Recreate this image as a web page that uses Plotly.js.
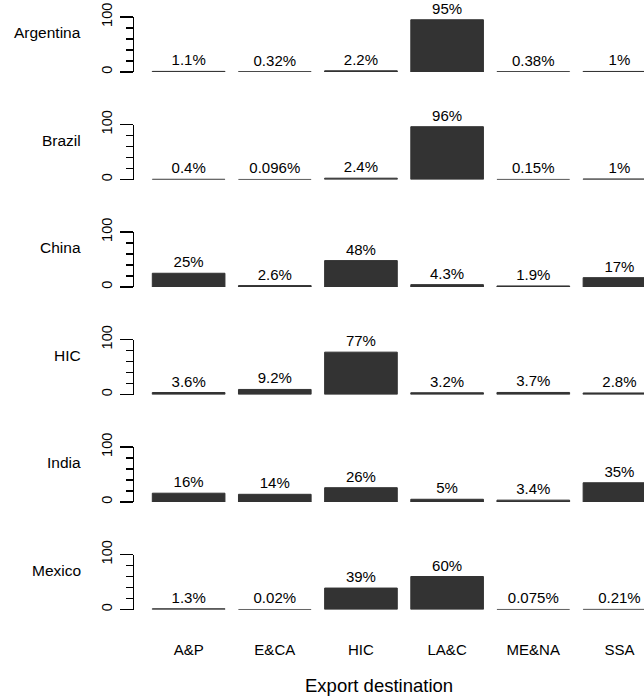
<!DOCTYPE html>
<html>
<head>
<meta charset="utf-8">
<script src="https://cdn.plot.ly/plotly-3.0.1.min.js"></script>
<style>html,body{margin:0;padding:0;background:#fff;}</style>
</head>
<body>
<div id="chart" style="width:644px;height:698px;"></div>
<script>
// Data
const destinations = ["A&P", "E&CA", "HIC", "LA&C", "ME&NA", "SSA"];
const origins = ["Argentina", "Brazil", "China", "HIC", "India", "Mexico"];
const argentina = [1.1, 0.32, 2.2, 95, 0.38, 1];
const brazil    = [0.4, 0.096, 2.4, 96, 0.15, 1];
const china     = [25, 2.6, 48, 4.3, 1.9, 17];
const hic       = [3.6, 9.2, 77, 3.2, 3.7, 2.8];
const india     = [16, 14, 26, 5, 3.4, 35];
const mexico    = [1.3, 0.02, 39, 60, 0.075, 0.21];
const yTickVals = [0, 100];
const yTickText = ["0", "100"];
const yMinorVals = [20, 40, 60, 80];
const xTitle = "Export destination";

const series = [argentina, brazil, china, hic, india, mexico];

const W = 644, H = 698;
const FONT = "Liberation Sans, Arial, Helvetica, sans-serif";
const BAR = "#333333";

function fmt(v) { return String(Number(v.toPrecision(2))) + "%"; }

const traces = [];
const layout = {
  width: W, height: H,
  margin: {l: 0, r: 0, t: 0, b: 0},
  paper_bgcolor: "#fff", plot_bgcolor: "#fff",
  showlegend: false,
  bargap: 0.157,
  font: {family: FONT, size: 15, color: "#000"},
  annotations: []
};

const xDom = [134 / W, 1];
const xRange = [-0.634, 5.285];

series.forEach((vals, i) => {
  const n = i + 1;
  const xa = "x" + (n === 1 ? "" : n);
  const ya = "y" + (n === 1 ? "" : n);
  traces.push({
    type: "bar",
    x: destinations,
    y: vals,
    xaxis: xa, yaxis: ya,
    marker: {color: BAR, line: {color: BAR, width: 1}},
    text: vals.map(fmt),
    textposition: "outside",
    textfont: {family: FONT, size: 15, color: "#000"},
    cliponaxis: false,
    hoverinfo: "x+y"
  });
  const bottom = 72 + 107.5 * i, top = 17 + 107.5 * i;
  const last = (i === series.length - 1);
  layout["xaxis" + (n === 1 ? "" : n)] = {
    domain: xDom, anchor: ya, type: "category",
    range: xRange, showline: false, showgrid: false, zeroline: false,
    ticks: "", showticklabels: last,
    ticklabelstandoff: 29,
    tickfont: {family: FONT, size: 15, color: "#000"},
    automargin: false, fixedrange: true
  };
  layout["yaxis" + (n === 1 ? "" : n)] = {
    domain: [1 - bottom / H, 1 - top / H], anchor: xa,
    range: [0, 100], showgrid: false, zeroline: false,
    showline: true, linecolor: "#000", linewidth: 1.5,
    tickmode: "array", tickvals: yTickVals, ticktext: yTickText,
    ticks: "outside", ticklen: 13, tickwidth: 1.5, tickcolor: "#000",
    tickangle: -90,
    ticklabelstandoff: 2,
    tickfont: {family: FONT, size: 14.5, color: "#000"},
    minor: {tickmode: "array", tickvals: yMinorVals, ticks: "outside", ticklen: 7, tickwidth: 1.5, tickcolor: "#000", showgrid: false},
    automargin: false, fixedrange: true
  };
  layout.annotations.push({
    text: origins[i], xref: "paper", yref: ya, x: 83 / W, y: 71,
    xanchor: "right", yanchor: "middle", showarrow: false,
    font: {family: FONT, size: 15.5, color: "#000"}
  });
});

layout.annotations.push({
  text: xTitle, xref: "paper", yref: "paper", x: 379 / W, y: 1 - 685 / H,
  xanchor: "center", yanchor: "middle", showarrow: false,
  font: {family: FONT, size: 18.5, color: "#000"}
});

Plotly.newPlot("chart", traces, layout, {staticPlot: true, displayModeBar: false});
</script>
</body>
</html>
